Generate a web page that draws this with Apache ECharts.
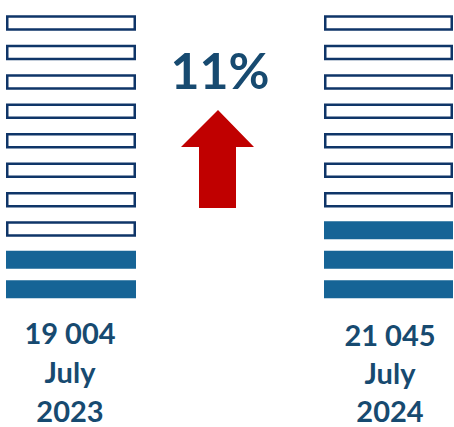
<!DOCTYPE html>
<html>
<head>
<meta charset="utf-8">
<script src="https://cdn.jsdelivr.net/npm/echarts@6/dist/echarts.min.js"></script>
<style>html,body{margin:0;padding:0;background:#fff}#c{width:454px;height:427px}</style>
</head>
<body>
<div id="c"></div>
<script>
// data
var periodMonths = ['July', 'July'];
var periodYears = ['2023', '2024'];
var totals = ['19 004', '21 045'];
var filledCounts = [2, 3];
var slots = ['1','2','3','4','5','6','7','8','9','10'];
var changeLabel = '11%';

var FILL = '#166496', LINE = '#0F3568', TEXT = '#174A70';
var chart = echarts.init(document.getElementById('c'), null, {renderer: 'svg'});

var grids = [
  {left: 6, width: 130, top: 8.3, height: 294.4},
  {left: 324, width: 129, top: 8.3, height: 294.4}
];
var xAxes = [], yAxes = [], series = [];
grids.forEach(function (g, i) {
  xAxes.push({gridIndex: i, type: 'value', min: 0, max: 1, show: false});
  yAxes.push({gridIndex: i, type: 'category', data: slots, show: false});
  var filled = slots.map(function (s, k) { return k < filledCounts[i] ? 1 : null; });
  var empty = slots.map(function (s, k) { return k >= filledCounts[i] ? 1 : null; });
  series.push({
    type: 'bar', xAxisIndex: i, yAxisIndex: i, data: filled, barWidth: 18,
    itemStyle: {color: FILL}, silent: true, animation: false
  });
  series.push({
    type: 'bar', xAxisIndex: i, yAxisIndex: i, data: empty, barWidth: 15.5, barGap: '-100%',
    itemStyle: {color: '#fff', borderColor: LINE, borderWidth: 2.5}, silent: true, animation: false
  });
});

var font = 'Lato, "Open Sans", sans-serif';
function label(x, y, txt) {
  return {
    type: 'text', x: x, y: y,
    style: {text: txt, font: 'bold 29px ' + font, fill: TEXT, textAlign: 'center', textVerticalAlign: 'middle', lineHeight: 24}
  };
}

chart.setOption({
  animation: false,
  grid: grids,
  xAxis: xAxes,
  yAxis: yAxes,
  series: series,
  graphic: [
    {type: 'text', x: 220, y: 69.5, style: {text: changeLabel, font: 'bold 50px ' + font, fill: TEXT, textAlign: 'center', textVerticalAlign: 'middle'}},
    {type: 'polygon', shape: {points: [[218,110],[254,147],[236,147],[236,208],[199,208],[199,147],[181,147]]}, style: {fill: '#C00000'}},
    label(70, 332.5, totals[0]),
    label(70, 371.5, periodMonths[0]),
    label(70, 410, periodYears[0]),
    label(390, 334, totals[1]),
    label(390, 372.5, periodMonths[1]),
    label(390, 410.5, periodYears[1])
  ]
});
</script>
</body>
</html>
